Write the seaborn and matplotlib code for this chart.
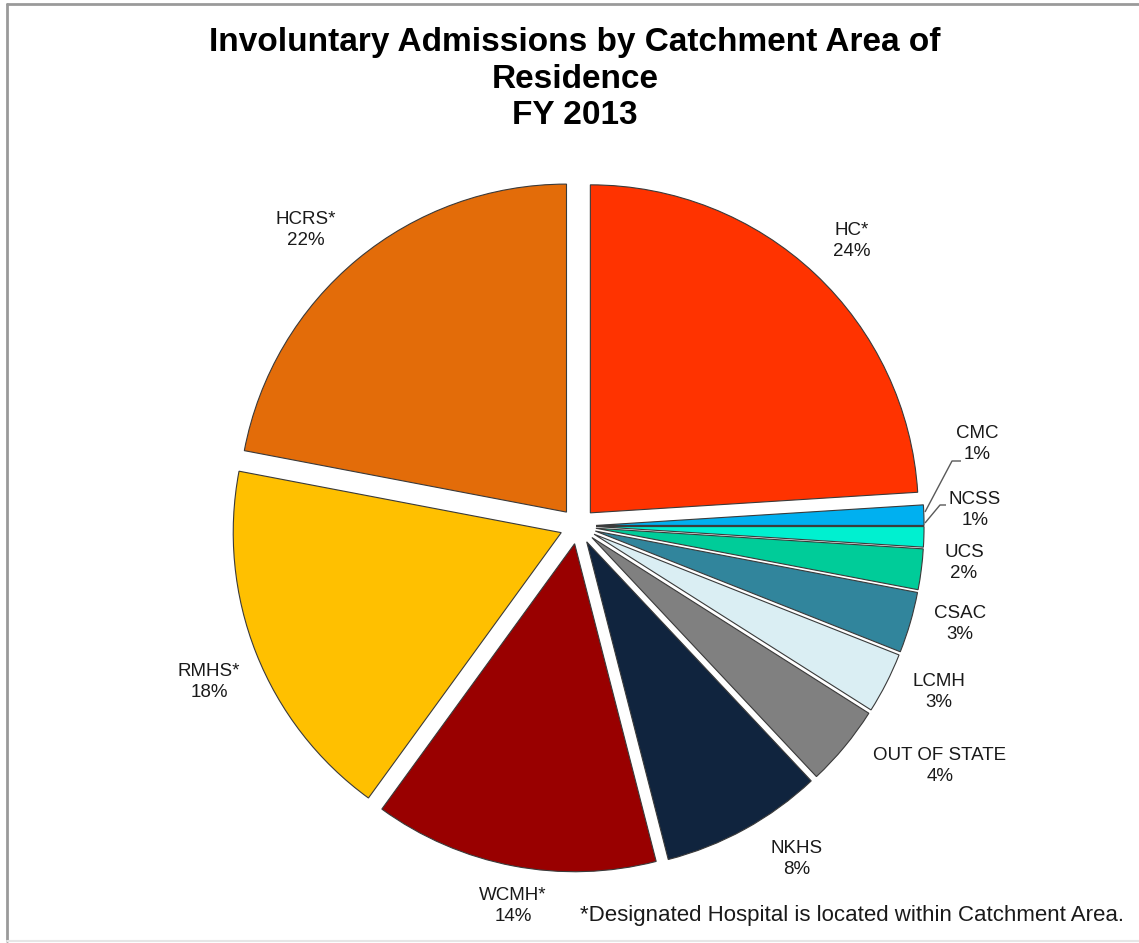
import matplotlib
matplotlib.use("Agg")
import matplotlib.pyplot as plt
from matplotlib.lines import Line2D
import seaborn as sns
import pandas as pd

# Involuntary admissions by catchment area of residence, FY 2013 (percent)
areas = ["HC*", "CMC", "NCSS", "UCS", "CSAC", "LCMH", "OUT OF STATE",
         "NKHS", "WCMH*", "RMHS*", "HCRS*"]
shares = [24, 1, 1, 2, 3, 3, 4, 8, 14, 18, 22]
colors = ["#FF3300", "#00B0F0", "#00F0D0", "#00CC99", "#31859C", "#DAEEF3",
          "#808080", "#10243E", "#990000", "#FFC000", "#E36C09"]

df = pd.DataFrame({"area": areas, "share": shares, "color": colors})

sns.set_theme(style="white")
plt.rcParams["font.family"] = ["Liberation Sans", "DejaVu Sans"]

W, H = 1139, 943
fig = plt.figure(figsize=(W / 100, H / 100), dpi=100)
fig.patch.set_facecolor("white")

# pie centre and radius in pixels; axes spans the figure so that 1 data unit = R px
CX, CY, R = 578, 526, 328
ax = fig.add_axes([0, 0, 1, 1])
ax.set_aspect("equal")
ax.axis("off")


def px(x, y):
    """Pixel position -> data coordinates of the pie axes."""
    return (x - CX) / R, (CY - y) / R


ax.pie(df["share"], colors=df["color"], startangle=90, counterclock=False,
       explode=[0.055] * len(df), radius=1.0, center=(0, 0), frame=False,
       wedgeprops=dict(edgecolor="#3A3A3A", linewidth=0.8))
ax.set_xlim(-CX / R, (W - CX) / R)
ax.set_ylim((CY - H) / R, CY / R)

# label anchor points (pixels)
label_pos = {
    "HC*": (852, 241), "CMC": (977, 444), "NCSS": (975, 510),
    "UCS": (964, 563), "CSAC": (960, 624), "LCMH": (939, 692),
    "OUT OF STATE": (940, 766), "NKHS": (797, 859), "WCMH*": (513, 906),
    "RMHS*": (209, 682), "HCRS*": (306, 230),
}
for area, share in zip(df["area"], df["share"]):
    x, y = px(*label_pos[area])
    ax.text(x, y, f"{area}\n{share:.0f}%", ha="center", va="center",
            fontsize=13.5, color="#1A1A1A", linespacing=1.3)

# leader lines for the two thin slices
for pts in ([(925, 512), (952, 461), (961, 461)],
            [(925, 523), (940, 505), (946, 505)]):
    xs, ys = zip(*[px(a, b) for a, b in pts])
    ax.plot(xs, ys, color="#595959", lw=1.0, solid_capstyle="butt")

fig.text(575 / W, 1 - 79 / H,
         "Involuntary Admissions by Catchment Area of\nResidence\nFY 2013",
         ha="center", va="center", fontsize=24, fontweight="bold",
         color="black", linespacing=1.25)

fig.text(580 / W, 1 - 915 / H,
         "*Designated Hospital is located within Catchment Area.",
         ha="left", va="center", fontsize=16, color="#1A1A1A")

# chart-area frame
frame = [((7, 4), (W, 4), "#9A9A9A", 2.0),
         ((7, 4), (7, 941), "#9A9A9A", 2.0),
         ((7, 941), (W, 941), "#E6E6E6", 1.5)]
for (x0, y0), (x1, y1), c, lw in frame:
    fig.add_artist(Line2D([x0 / W, x1 / W], [1 - y0 / H, 1 - y1 / H],
                          transform=fig.transFigure, color=c, lw=lw))

fig.savefig("out.png", dpi=100, facecolor="white")
